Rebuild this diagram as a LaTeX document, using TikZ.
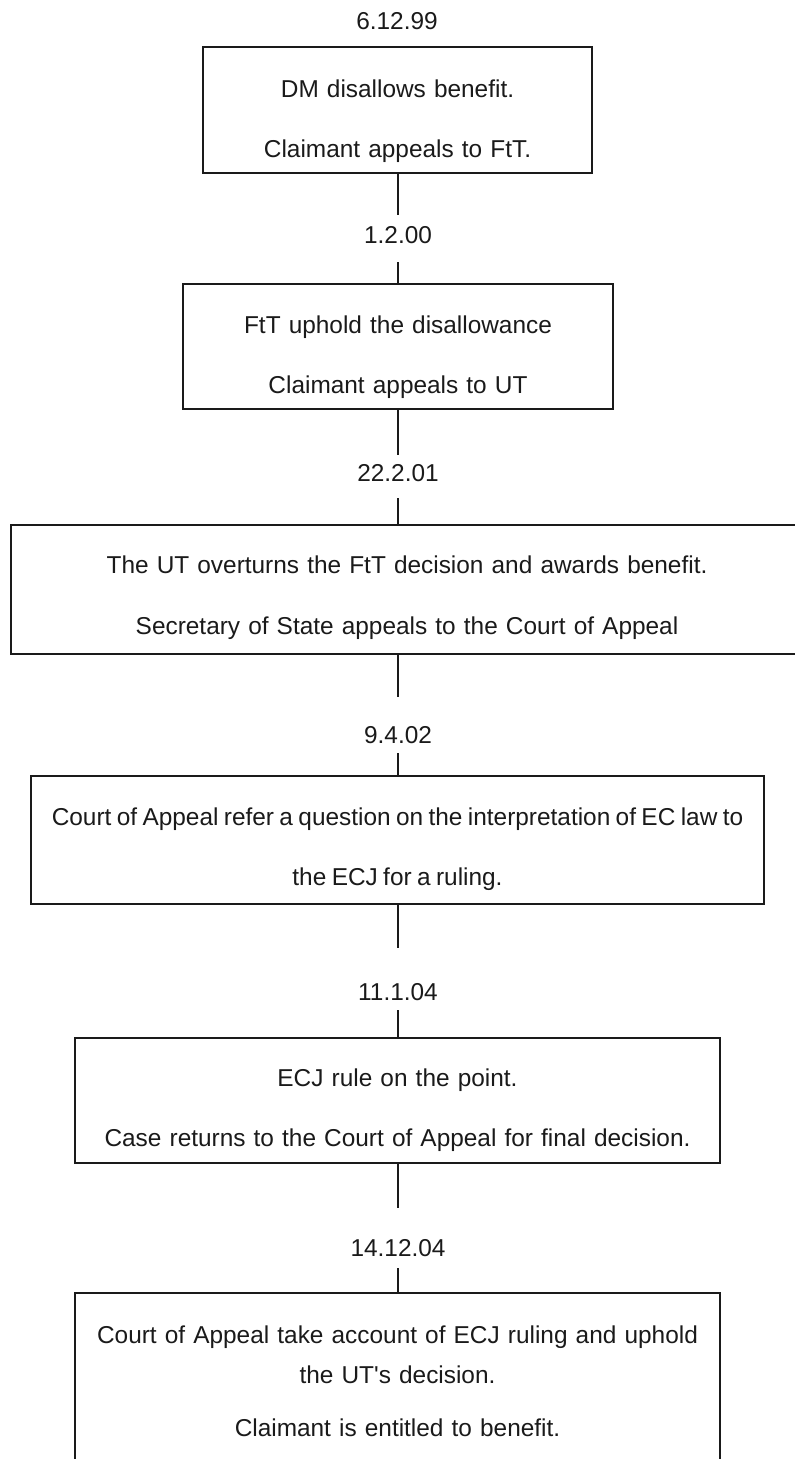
\documentclass[tikz,border=0pt]{standalone}
\usepackage{fontspec}
\setmainfont{Liberation Sans}
\usetikzlibrary{calc}
\definecolor{cInk}{HTML}{1A1A1A}
\tikzset{
  evbox/.style={draw=cInk, line width=0.8pt, inner sep=0pt, anchor=north,
                align=center, text=cInk, font=\fontsize{12.2}{30}\selectfont},
  datelbl/.style={inner sep=0pt, text=cInk, font=\fontsize{12.2}{15}\selectfont},
  link/.style={draw=cInk, line width=0.6pt}
}

\begin{document}
\begin{tikzpicture}[x=0.5pt, y=-0.5pt]
\useasboundingbox (0,0) rectangle (795,1459);
% dates (units: px of the page)
\node[datelbl] (d1) at (397,21)   {6.12.99};
\node[datelbl] (d2) at (398,235)  {1.2.00};
\node[datelbl] (d3) at (398,473)  {22.2.01};
\node[datelbl] (d4) at (398,735)  {9.4.02};
\node[datelbl] (d5) at (398,992)  {11.1.04};
\node[datelbl] (d6) at (398,1248) {14.12.04};
% events
\node[evbox, text width=194.5pt, text height=25.5pt, text depth=37.5pt] (b1) at (397.5,46)
  {DM disallows benefit.\\Claimant appeals to FtT.};
\node[evbox, text width=215pt, text height=25pt, text depth=37.5pt] (b2) at (398,283)
  {FtT uphold the disallowance\\Claimant appeals to UT};
\node[evbox, text width=396pt, text height=24.5pt, text depth=40pt] (b3) at (407,524)
  {The UT overturns the FtT decision and awards benefit.\\[0.5pt]Secretary of State appeals to the Court of Appeal};
\node[evbox, text width=366.5pt, text height=25pt, text depth=39pt] (b4) at (397.5,775)
  {\spaceskip=2.7pt\relax Court of Appeal refer a question on the interpretation of EC law to\\the ECJ for a ruling.};
\node[evbox, text width=322.5pt, text height=24.5pt, text depth=38pt] (b5) at (397.5,1037)
  {ECJ rule on the point.\\Case returns to the Court of Appeal for final decision.};
\node[evbox, text width=322.5pt, text height=25.5pt, text depth=66pt,
      font=\fontsize{12.2}{20}\selectfont] (b6) at (397.5,1292)
  {Court of Appeal take account of ECJ ruling and uphold\\the UT\textquotesingle s decision.\\[6.5pt]Claimant is entitled to benefit.};
% connectors
\foreach \bx/\dt/\gap in {b1/d2/5.6pt, b2/d3/4.6pt, b3/d4/14.6pt, b4/d5/17.6pt, b5/d6/15.6pt}
  \draw[link, shorten >=\gap] (\bx.south -| \dt) -- (\dt);
\foreach \dt/\bx/\gap in {d2/b2/9.1pt, d3/b3/8.1pt, d4/b4/4.6pt, d5/b5/4.6pt, d6/b6/5.6pt}
  \draw[link, shorten <=\gap] (\dt) -- (\bx.north -| \dt);
\end{tikzpicture}
\end{document}
